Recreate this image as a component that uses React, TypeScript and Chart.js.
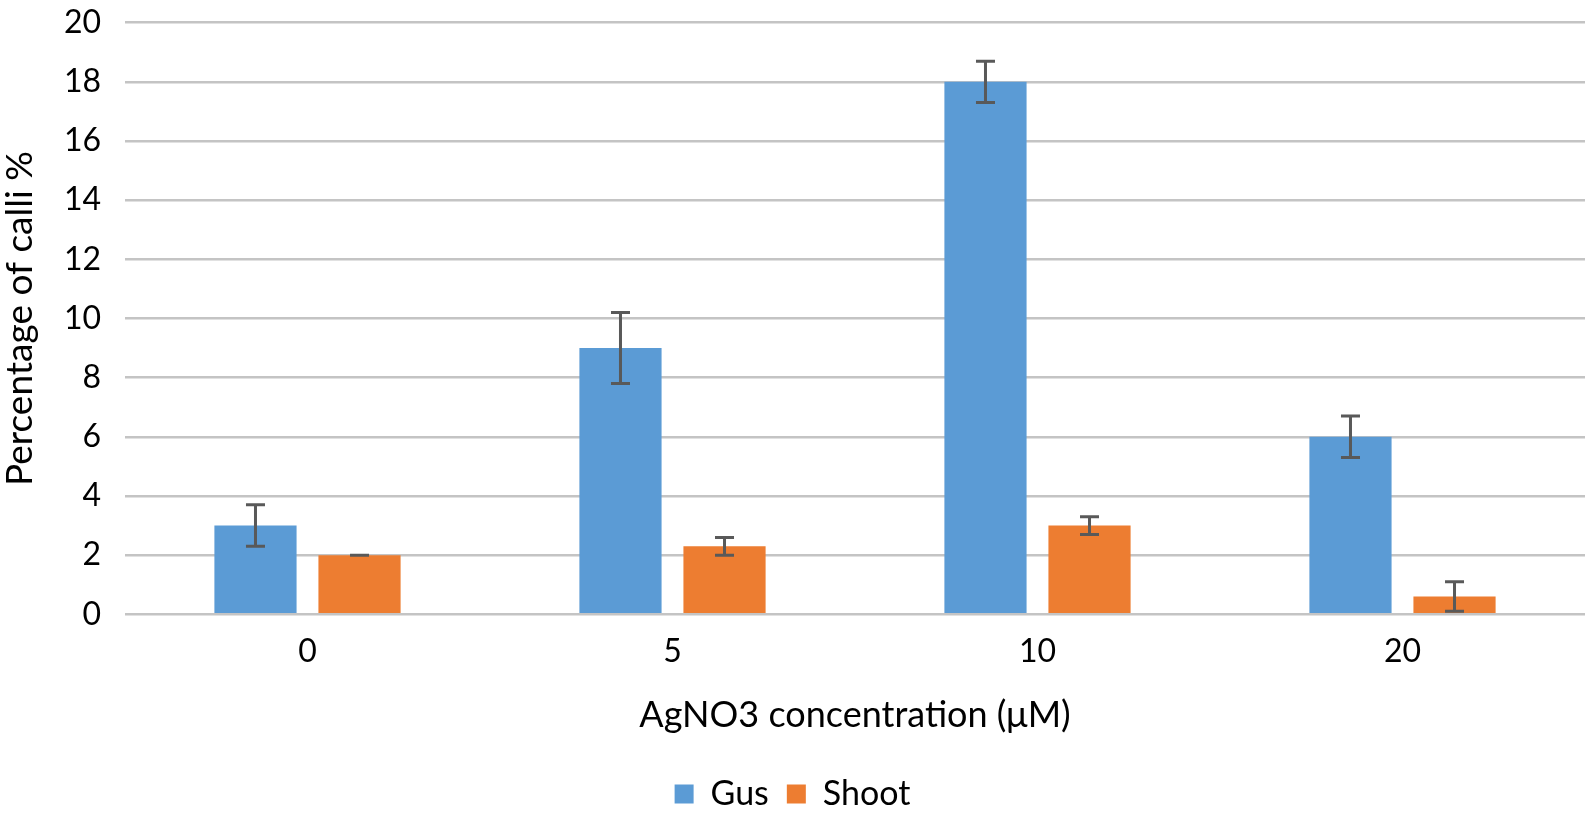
import React, { useEffect, useRef } from "react";
import { Chart, registerables } from "chart.js";

Chart.register(...registerables);

const categories = ["0", "5", "10", "20"];
const gusValues = [3, 9, 18, 6];
const gusErrors = [0.7, 1.2, 0.7, 0.7];
const shootValues = [2, 2.3, 3, 0.6];
const shootErrors = [0, 0.3, 0.3, 0.5];
const seriesNames = ["Gus", "Shoot"];
const yTitle = "Percentage of calli %";
const xTitle = "AgNO3 concentration (μM)";

const FONT = "Lato";

const errorBarPlugin = {
  id: "errorBars",
  afterDatasetsDraw(chart: any) {
    const ctx = chart.ctx;
    const yScale = chart.scales.y;
    chart.data.datasets.forEach((ds: any, di: number) => {
      const meta = chart.getDatasetMeta(di);
      const errs: number[] = ds.errors || [];
      meta.data.forEach((bar: any, i: number) => {
        const v = ds.data[i];
        const e = errs[i] || 0;
        const x = bar.x;
        const yTop = yScale.getPixelForValue(v + e);
        const yBot = yScale.getPixelForValue(v - e);
        const cap = 9.5;
        ctx.save();
        ctx.strokeStyle = "#595959";
        ctx.lineWidth = 3;
        ctx.beginPath();
        ctx.moveTo(x, yTop);
        ctx.lineTo(x, yBot);
        ctx.moveTo(x - cap, yTop);
        ctx.lineTo(x + cap, yTop);
        ctx.moveTo(x - cap, yBot);
        ctx.lineTo(x + cap, yBot);
        ctx.stroke();
        ctx.restore();
      });
    });
  },
};

export default function App() {
  const canvasRef = useRef<HTMLCanvasElement | null>(null);

  useEffect(() => {
    if (!canvasRef.current) return;
    const chart = new Chart(canvasRef.current, {
      type: "bar",
      data: {
        labels: categories,
        datasets: [
          {
            label: seriesNames[0],
            data: gusValues,
            errors: gusErrors,
            backgroundColor: "#5B9BD5",
            borderWidth: 0,
            categoryPercentage: 0.57,
            barPercentage: 0.79,
          } as any,
          {
            label: seriesNames[1],
            data: shootValues,
            errors: shootErrors,
            backgroundColor: "#ED7D31",
            borderWidth: 0,
            categoryPercentage: 0.57,
            barPercentage: 0.79,
          } as any,
        ],
      },
      options: {
        animation: false,
        responsive: false,
        maintainAspectRatio: false,
        layout: { padding: { top: 22.7, right: 5, left: 0, bottom: -5 } },
        plugins: {
          tooltip: { enabled: false },
          legend: {
            position: "bottom",
            labels: {
              boxWidth: 19,
              boxHeight: 19,
              padding: 18,
              color: "#000",
              font: { family: FONT, size: 34 },
            },
          },
        },
        scales: {
          x: {
            grid: { display: false, drawTicks: false },
            border: { display: false },
            ticks: { color: "#000", padding: 18.5, font: { family: FONT, size: 32 } },
            title: {
              display: true,
              text: xTitle,
              color: "#000",
              font: { family: FONT, size: 36 },
              padding: { top: 0, bottom: 22 },
            },
            afterFit: (scale: any) => {
              scale.height = 144.7;
            },
          },
          y: {
            min: 0,
            max: 20,
            ticks: { stepSize: 2, color: "#000", padding: 24, font: { family: FONT, size: 32 } },
            grid: { color: "#C4C4C4", lineWidth: 2.5, drawTicks: false },
            border: { display: false },
            title: {
              display: true,
              text: yTitle,
              color: "#000",
              font: { family: FONT, size: 37 },
              padding: { top: -2, bottom: 0 },
            },
            afterFit: (scale: any) => {
              scale.width = 125;
              scale.paddingTop = 0;
              scale.paddingBottom = 0;
            },
          },
        },
      },
      plugins: [errorBarPlugin],
    } as any);
    return () => chart.destroy();
  }, []);

  return (
    <div style={{ position: "fixed", left: 0, top: 0, width: 1590, height: 816, background: "#fff" }}>
      <canvas ref={canvasRef} width={1590} height={816} style={{ width: 1590, height: 816 }} />
    </div>
  );
}
